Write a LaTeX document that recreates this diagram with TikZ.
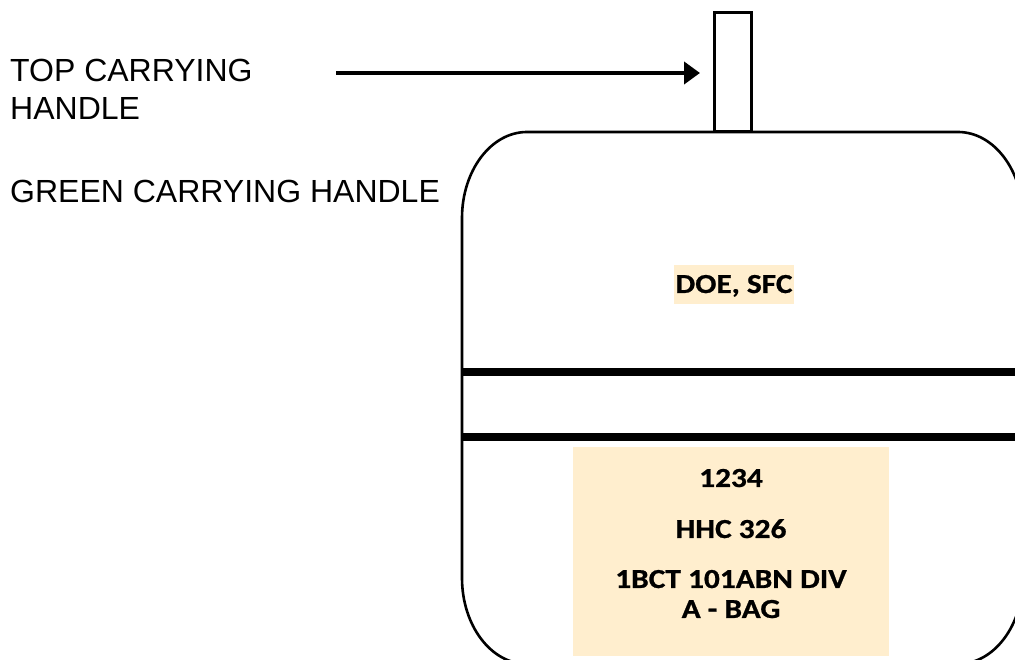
\documentclass[tikz,border=0pt]{standalone}
\usepackage{fontspec}
\newfontfamily\arialf{Liberation Sans}
\newfontfamily\calib[FakeStretch=1.14, BoldFeatures={FakeBold=0.8}]{Carlito}
\usetikzlibrary{arrows.meta}
\definecolor{tagbeige}{HTML}{FFEECE}
\tikzset{
  bagline/.style={line width=2.6pt},
  strapline/.style={line width=7.5pt},
  labeltext/.style={font=\arialf\fontsize{32}{38}\selectfont, inner sep=0pt, align=left},
  tagtext/.style={font=\calib\bfseries\fontsize{27.5}{32}\selectfont, inner sep=0pt, anchor=base},
  pointer/.style={line width=4pt, -{Triangle[length=16pt,width=22pt]}},
}
\begin{document}
\begin{tikzpicture}[x=1pt,y=1pt]
\useasboundingbox (0,0) rectangle (1015,660);
% bag outline
\draw[bagline] (462,442) arc[start angle=180,end angle=90,x radius=65,y radius=86]
  -- (958,528) arc[start angle=90,end angle=0,x radius=65,y radius=86]
  -- (1023,82) arc[start angle=0,end angle=-90,x radius=65,y radius=86]
  -- (527,-4) arc[start angle=270,end angle=180,x radius=65,y radius=86]
  -- cycle;
% straps
\draw[strapline] (462,288) -- (1023,288);
\draw[strapline] (462,223) -- (1023,223);
% top handle
\node[draw, line width=3pt, minimum width=36.5pt, minimum height=119pt, inner sep=0pt] (handle) at (732.75,587.5) {};
% labels
\node[labeltext, anchor=base west] (toplabel) at (10,540) {TOP CARRYING\\HANDLE};
\node[labeltext, anchor=base west] (greenlabel) at (10,457) {GREEN CARRYING HANDLE};
\coordinate (astart) at (336,587);
\draw[pointer, shorten >=13pt] (astart) -- (handle.west |- astart);
% name tag
\node[fill=tagbeige, minimum width=120pt, inner sep=0pt, text height=28pt, text depth=11pt, font=\calib\bfseries\fontsize{27.5}{32}\selectfont, anchor=base] (name) at (734,367) {DOE, SFC};
% bottom tag
\node[fill=tagbeige, minimum width=316pt, minimum height=209pt, inner sep=0pt] (tag) at (731,108.5) {};
\node[tagtext] (t1) at (731,173) {1234};
\node[tagtext] (t2) at (731,122) {HHC 326};
\node[tagtext] (t3) at (731,72) {1BCT 101ABN DIV};
\node[tagtext] (t4) at (731,42) {A - BAG};
\end{tikzpicture}
\end{document}
